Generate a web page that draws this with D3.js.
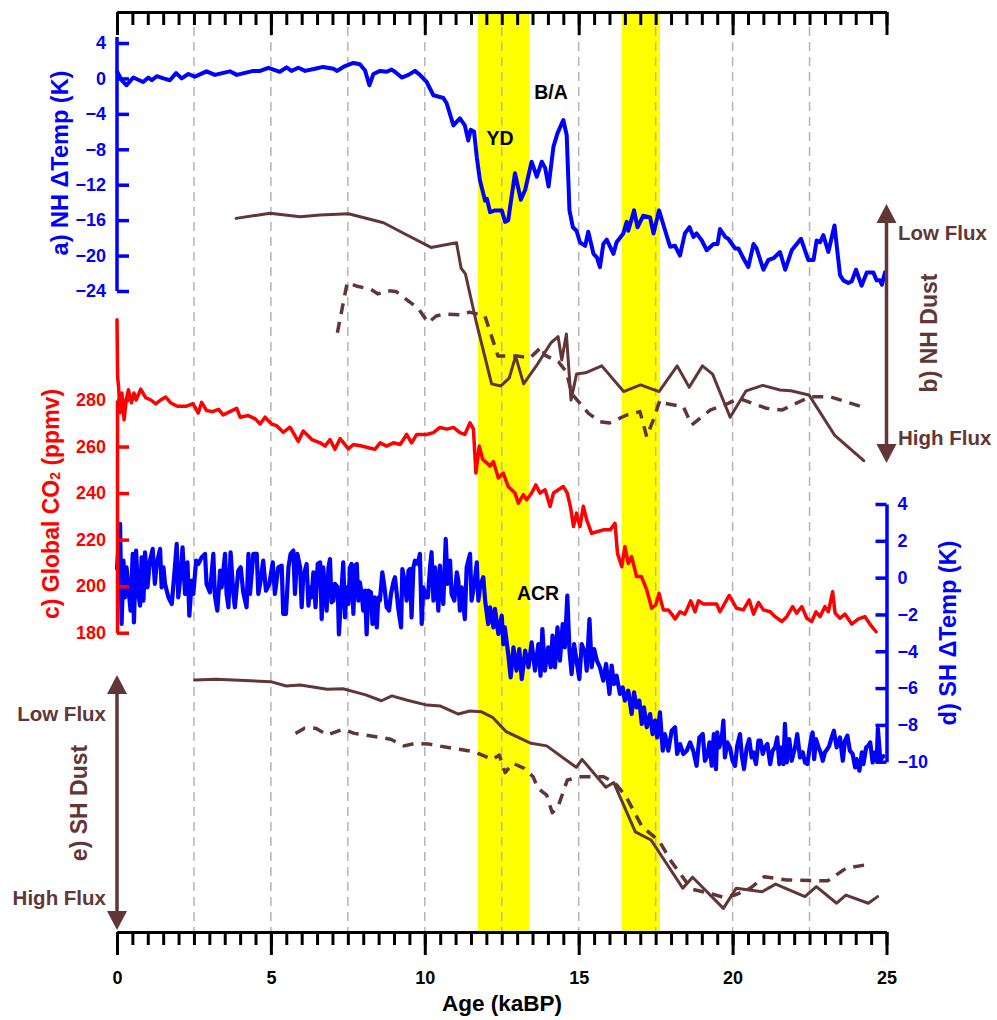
<!DOCTYPE html>
<html>
<head>
<meta charset="utf-8">
<script src="https://cdn.jsdelivr.net/npm/d3@7"></script>
<style>
  html, body { margin: 0; padding: 0; background: #fff; }
  svg { display: block; font-family: "Liberation Sans", Arial, sans-serif; font-weight: bold; }
</style>
</head>
<body>
<svg id="chart" width="997" height="1020"></svg>
<script>
// ---- Data -------------------------------------------------------------
const ageTicks = [0, 5, 10, 15, 20, 25];
const gridAges = [2.5, 5, 7.5, 10, 12.5, 15, 17.5, 20, 22.5];
const bands = [[11.73, 13.39], [16.39, 17.64]];   // YD and HS1 intervals (ka)

const nhTempTicks = [4, 0, -4, -8, -12, -16, -20, -24];
const co2Ticks = [280, 260, 240, 220, 200, 180];
const shTempTicks = [4, 2, 0, -2, -4, -6, -8, -10];

// a) NH temperature anomaly (age ka, K)
const nhTemp = [
  [0.01,0.73],[0.15,-0.2],[0.31,-0.77],[0.53,0.1],[0.85,-0.4],[1.02,0.1],[1.13,-0.2],[1.29,0.25],
  [1.51,0.0],[1.72,-0.2],[1.92,0.6],[2.10,0.0],[2.32,0.5],[2.53,0.2],[2.91,0.8],[3.18,0.4],
  [3.67,0.8],[3.89,0.4],[4.43,0.85],[4.65,0.85],[4.92,1.2],[5.29,0.75],[5.51,1.25],[5.67,0.85],
  [5.89,1.2],[6.11,0.85],[6.43,1.1],[6.70,1.3],[7.03,1.1],[7.14,0.85],[7.41,1.4],[7.68,1.75],
  [7.89,1.6],[8.06,0.9],[8.20,-0.77],[8.33,0.5],[8.55,0.85],[8.76,0.75],[8.92,1.0],[9.03,0.75],
  [9.25,0.1],[9.47,0.4],[9.68,0.85],[9.84,0.4],[10.06,-0.4],[10.28,-1.9],[10.49,-2.1],[10.60,-2.2],
  [10.71,-2.8],[10.93,-5.3],[11.14,-4.5],[11.30,-5.3],[11.41,-7.0],[11.49,-5.8],[11.60,-6.0],
  [11.69,-8.9],[11.79,-11.5],[11.96,-13.8],[12.02,-13.6],[12.12,-15.1],[12.28,-14.9],[12.50,-14.9],
  [12.61,-16.2],[12.71,-16.0],[12.93,-10.7],[13.12,-13.7],[13.26,-12.6],[13.47,-9.4],[13.64,-11.1],
  [13.80,-9.4],[13.91,-10.1],[14.02,-12.2],[14.18,-7.7],[14.31,-6.2],[14.50,-4.7],[14.61,-6.4],
  [14.70,-14.9],[14.81,-16.8],[14.93,-17.2],[15.04,-18.5],[15.21,-18.9],[15.31,-17.3],[15.48,-19.8],
  [15.59,-20.2],[15.69,-21.3],[15.80,-18.7],[15.91,-18.2],[16.13,-19.8],[16.23,-18.5],[16.45,-17.5],
  [16.56,-16.2],[16.61,-17.2],[16.80,-14.9],[16.91,-16.8],[17.10,-15.5],[17.32,-15.7],[17.43,-17.5],
  [17.61,-14.9],[17.81,-17.2],[17.97,-19.0],[18.13,-18.9],[18.29,-20.0],[18.45,-17.5],[18.60,-16.8],
  [18.73,-17.9],[18.83,-17.5],[19.00,-18.3],[19.16,-19.4],[19.38,-18.7],[19.51,-18.7],[19.59,-17.0],
  [19.76,-17.9],[19.86,-18.1],[20.08,-19.2],[20.19,-19.2],[20.35,-20.3],[20.51,-21.3],[20.68,-18.7],
  [20.78,-19.2],[21.00,-21.6],[21.16,-20.5],[21.33,-20.3],[21.54,-19.6],[21.71,-21.6],[21.92,-19.4],
  [22.22,-18.1],[22.46,-20.5],[22.63,-20.5],[22.73,-18.3],[22.84,-18.5],[22.95,-17.7],[23.11,-19.6],
  [23.31,-16.6],[23.49,-22.2],[23.60,-22.8],[23.76,-23.1],[23.87,-22.9],[24.01,-21.6],[24.19,-23.4],
  [24.36,-21.9],[24.57,-21.9],[24.68,-22.8],[24.79,-22.8],[24.85,-23.3],[24.95,-21.9]
];

// c) Global CO2 (age ka, ppmv)
const co2 = [
  [0.00,314.5],[0.02,290],[0.05,285.8],[0.10,274.5],[0.16,283],[0.23,271.5],[0.30,280],[0.37,284.4],
  [0.47,278.8],[0.55,283],[0.62,280],[0.77,284.7],[0.93,281],[1.10,280],[1.26,278.3],[1.42,280],
  [1.58,281.3],[1.75,278.7],[1.96,277.3],[2.24,277.3],[2.47,278.4],[2.64,274.4],[2.75,279],
  [2.91,275.5],[3.10,275],[3.30,276],[3.45,273.6],[3.67,275],[3.89,276.4],[4.00,272.6],[4.27,273.3],
  [4.49,271.9],[4.65,269.7],[4.81,272.6],[5.02,269.7],[5.18,269],[5.40,266.1],[5.62,268.3],
  [5.89,262.2],[6.05,266.7],[6.33,263],[6.60,261.6],[6.76,260.2],[6.92,263],[7.08,258.8],
  [7.25,263.4],[7.52,259],[7.68,260.9],[7.95,260.2],[8.17,259.5],[8.38,258.8],[8.55,261.6],
  [8.76,260.2],[8.98,261.6],[9.20,260.9],[9.41,265.2],[9.57,261.6],[9.74,265.2],[10.06,265.2],
  [10.28,266],[10.49,268.2],[10.71,267.5],[10.93,268.2],[11.14,266],[11.30,265.2],[11.47,270.2],
  [11.58,267.5],[11.66,248.6],[11.77,260.2],[11.88,254.5],[12.01,253],[12.12,251.6],[12.23,253.5],
  [12.39,246.5],[12.55,248.6],[12.71,242.8],[12.93,240],[13.04,235.7],[13.20,239.3],[13.31,237.1],
  [13.47,240],[13.61,243.5],[13.74,240],[13.91,241.4],[14.07,234.2],[14.18,240],[14.34,241.4],
  [14.50,242.8],[14.63,240],[14.74,233.5],[14.83,225.6],[14.93,231.4],[15.04,225.6],[15.15,234.3],
  [15.26,228.5],[15.42,222.7],[15.59,223.4],[15.80,224.2],[16.02,224.2],[16.18,227],[16.26,214.1],
  [16.40,208.4],[16.50,217],[16.61,209.8],[16.72,212.7],[16.88,204.1],[17.04,204.1],[17.21,198.4],
  [17.37,190.5],[17.50,191.9],[17.61,196.9],[17.75,189.8],[17.91,189.8],[18.02,188],[18.13,185.9],
  [18.29,189],[18.45,188],[18.64,193.7],[18.78,189],[18.89,193.7],[19.05,192.3],[19.26,192.3],
  [19.48,192.3],[19.59,189],[19.89,196],[20.13,190.5],[20.35,189.8],[20.54,194.1],[20.68,188],
  [20.84,193],[21.00,189.8],[21.22,189],[21.38,186.9],[21.60,184.8],[21.76,186.9],[21.95,191.2],
  [22.08,188.4],[22.25,191.2],[22.41,186.2],[22.57,184.8],[22.71,189],[22.84,186.9],[23.00,191.2],
  [23.11,189],[23.25,197.6],[23.33,188.4],[23.49,186.2],[23.65,188],[23.87,183.7],[24.09,185.9],
  [24.30,186.9],[24.46,183.7],[24.66,180.4]
];

// d) SH temperature anomaly (age ka, K)
const shTemp = [
  [0.00,0.5],[0.10,2.92],[0.15,-2.52],[0.21,0.92],[0.26,-1.07],[0.31,0.56],[0.37,-0.53],[0.44,-1.79],
  [0.51,1.29],[0.55,-2.43],[0.62,1.47],[0.69,-0.89],[0.75,-1.52],[0.80,1.10],[0.86,-1.25],[0.91,1.38],
  [0.99,-0.53],[1.07,0.92],[1.16,1.56],[1.23,-0.34],[1.29,0.74],[1.40,1.56],[1.45,-0.53],[1.51,0.56],
  [1.56,-0.34],[1.67,-1.07],[1.78,-1.43],[1.88,0.56],[1.94,1.83],[1.99,-1.07],[2.07,0.20],[2.13,1.65],
  [2.21,-0.89],[2.29,0.83],[2.35,-2.07],[2.43,-0.16],[2.48,-0.89],[2.57,0.92],[2.64,0.74],[2.75,1.10],
  [2.86,1.29],[2.91,-0.34],[3.02,-0.80],[3.13,1.29],[3.18,-0.98],[3.26,-1.79],[3.35,0.38],[3.40,-0.53],
  [3.51,1.29],[3.56,-0.89],[3.62,-1.61],[3.69,1.38],[3.78,-0.89],[3.83,-1.61],[3.94,0.38],[4.02,0.56],
  [4.10,-0.80],[4.21,-1.61],[4.27,1.29],[4.32,-0.89],[4.43,1.29],[4.54,1.29],[4.59,-0.89],[4.65,-0.34],
  [4.75,0.92],[4.84,-0.71],[4.95,-0.34],[5.06,0.83],[5.13,-0.89],[5.24,0.56],[5.35,0.65],[5.40,-1.97],
  [5.49,-1.97],[5.57,0.56],[5.64,1.29],[5.73,1.47],[5.78,-0.89],[5.86,1.29],[5.95,0.56],
  [6.00,-1.61],[6.05,0.02],[6.16,0.74],[6.22,-1.52],[6.27,-0.53],[6.32,-1.07],[6.38,0.29],[6.45,-1.61],
  [6.52,0.74],[6.60,0.83],[6.65,-2.25],[6.70,0.56],[6.76,-0.71],[6.81,-1.79],[6.87,0.56],[6.92,1.01],
  [6.97,-1.34],[7.03,-1.25],[7.08,-0.34],[7.17,-0.53],[7.21,-3.08],[7.28,-1.07],[7.35,0.83],[7.41,-2.16],
  [7.46,-0.53],[7.52,-1.43],[7.57,0.56],[7.62,0.74],[7.68,-1.97],[7.73,0.65],[7.79,0.74],[7.84,-1.25],
  [7.89,-0.25],[7.95,-0.89],[8.00,-1.79],[8.06,-0.71],[8.11,-3.08],[8.17,-0.71],[8.25,-0.80],[8.30,-2.52],
  [8.36,-1.07],[8.44,-2.70],[8.49,-1.07],[8.54,-1.25],[8.62,0.29],[8.69,-0.53],[8.76,-1.61],[8.84,-1.79],
  [8.90,-0.89],[8.98,-0.25],[9.03,0.02],[9.09,-0.89],[9.14,-1.70],[9.23,-2.70],[9.27,0.47],[9.34,-0.16],
  [9.41,-1.25],[9.47,0.38],[9.52,0.47],[9.57,-2.16],[9.63,0.56],[9.68,0.92],[9.77,0.74],[9.84,1.29],
  [9.90,-2.52],[9.95,-0.53],[10.03,-1.07],[10.10,-1.07],[10.17,0.56],[10.22,1.38],[10.28,-1.25],
  [10.33,0.56],[10.39,-0.34],[10.44,-1.79],[10.49,0.65],[10.55,-0.62],[10.60,-1.43],[10.68,2.10],
  [10.74,-0.34],[10.82,0.92],[10.87,-0.89],[10.96,-1.25],[11.04,0.29],[11.09,-0.16],[11.14,-1.79],
  [11.20,-0.53],[11.30,-2.25],[11.36,0.56],[11.47,1.29],[11.52,-1.25],[11.61,-0.34],[11.69,0.83],
  [11.74,-1.25],[11.79,-0.53],[11.90,0.02],
  [11.96,-1.25],[12.06,-2.52],[12.12,-1.61],[12.23,-2.70],[12.28,-1.70],[12.39,-3.06],[12.50,-2.07],
  [12.55,-3.61],[12.60,-2.70],[12.71,-4.15],[12.79,-5.42],[12.88,-3.79],[12.98,-5.05],[13.07,-3.88],
  [13.15,-5.51],[13.26,-3.97],[13.37,-4.87],[13.47,-3.51],[13.58,-5.05],[13.69,-3.61],[13.76,-5.33],
  [13.82,-2.79],[13.90,-5.05],[14.01,-3.79],[14.09,-4.87],[14.15,-3.15],[14.23,-4.87],[14.31,-2.70],
  [14.39,-4.51],[14.48,-2.52],[14.55,-3.79],[14.63,-0.98],[14.70,-3.97],[14.77,-5.24],[14.85,-3.61],
  [14.93,-4.51],[15.02,-5.51],[15.10,-3.61],[15.21,-4.15],[15.26,-5.05],[15.35,-2.25],[15.42,-4.87],
  [15.50,-3.88],[15.59,-4.51],[15.69,-4.87],[15.80,-5.60],[15.89,-4.69],[16.00,-6.32],[16.07,-4.78],
  [16.15,-5.78],[16.23,-5.33],[16.34,-6.32],[16.43,-5.96],[16.50,-6.68],[16.61,-6.14],[16.72,-7.41],
  [16.80,-6.23],[16.88,-7.05],[16.97,-6.68],[17.05,-7.95],[17.12,-7.05],[17.21,-8.13],[17.32,-7.41],
  [17.40,-8.50],[17.48,-7.77],[17.55,-8.68],[17.64,-7.32],[17.73,-9.40],[17.80,-8.50],[17.91,-9.40],
  [18.02,-8.32],[18.13,-8.13],[18.20,-9.58],[18.29,-9.04],[18.40,-9.58],[18.51,-9.40],
  [18.62,-8.95],[18.72,-9.40],[18.83,-10.22],[18.92,-8.68],[19.03,-8.50],[19.10,-9.95],[19.18,-9.67],
  [19.25,-8.95],[19.32,-10.22],[19.39,-8.50],[19.46,-10.40],[19.50,-8.41],[19.57,-9.22],[19.65,-8.68],
  [19.70,-7.77],[19.75,-9.77],[19.83,-8.95],[19.91,-9.22],[20.00,-9.95],[20.08,-10.22],[20.15,-9.13],
  [20.24,-8.50],[20.30,-9.67],[20.37,-10.40],[20.46,-9.22],[20.54,-8.77],[20.62,-9.77],[20.67,-9.49],
  [20.76,-10.13],[20.84,-8.86],[20.91,-8.86],[20.98,-9.58],[21.05,-9.22],[21.13,-9.04],[21.22,-10.13],
  [21.30,-9.40],[21.38,-9.22],[21.45,-8.68],[21.52,-10.13],[21.59,-9.22],[21.65,-10.13],[21.70,-7.95],
  [21.76,-10.04],[21.84,-8.77],[21.92,-9.95],[22.03,-9.22],[22.10,-8.50],[22.19,-9.77],[22.28,-9.49],
  [22.35,-10.04],[22.43,-10.13],[22.49,-9.40],[22.54,-8.86],[22.60,-8.41],[22.65,-9.86],[22.71,-8.77],
  [22.79,-9.22],[22.86,-9.49],[22.93,-9.95],[23.00,-9.49],[23.08,-9.31],[23.14,-9.13],[23.22,-8.68],
  [23.29,-8.32],[23.38,-9.22],[23.49,-8.68],[23.58,-9.95],[23.65,-8.86],[23.73,-8.59],[23.81,-9.40],
  [23.90,-9.58],[23.98,-10.31],[24.03,-9.86],[24.12,-10.49],[24.20,-9.49],[24.25,-10.13],[24.34,-9.22],
  [24.41,-9.13],[24.47,-8.95],[24.55,-10.04],[24.63,-9.49],[24.68,-9.95],[24.72,-8.2],[24.80,-9.9],
  [24.90,-9.7]
];

// b) NH dust, relative index (0 = high flux, 100 = low flux)
const nhDustA = [
  [3.87,94.8],[4.97,96.8],[5.95,95.4],[6.60,96.1],[7.52,96.6],[8.66,93.1],[9.31,89.0],[10.20,83.5],
  [11.03,85.3],[11.18,75.4],[11.32,73.2],[11.68,54.0],[12.17,30.4],[12.47,29.6],[12.74,32.6],
  [12.95,41.2],[13.21,30.4],[13.68,38.4],[14.10,46.4],[14.33,48.8],[14.45,39.7],[14.60,49.8],
  [14.75,24.1],[14.93,34.2],[15.22,34.7],[15.75,37.4],[16.46,27.4],[17.01,30.0],[17.61,27.4],
  [18.20,37.4],[18.59,29.1],[19.02,37.4],[19.35,34.2],[19.92,17.4],[20.44,27.7],[20.98,29.8],
  [21.54,28.0],[21.89,27.7],[22.48,26.1],[23.31,10.5],[24.26,0.5]
];
const nhDustB = [
  [7.16,50.3],[7.48,69.8],[7.77,68.5],[8.25,67.2],[8.48,65.4],[8.78,66.7],[9.07,66.3],[9.43,63.0],
  [9.78,59.8],[10.11,54.2],[10.37,56.8],[10.66,57.6],[11.20,57.2],[11.45,58.3],[11.95,56.9],
  [12.38,41.2],[12.54,41.2],[13.03,41.2],[13.42,40.5],[13.80,44.9],[13.90,41.6],[14.34,39.0],
  [14.60,35.1],[14.77,26.7],[15.04,22.8],[15.32,18.9],[15.69,15.7],[16.00,15.2],[16.56,18.3],
  [16.99,19.6],[17.21,9.8],[17.42,16.3],[17.64,24.1],[17.80,22.8],[18.40,21.5],[18.67,14.4],
  [19.27,20.2],[19.86,22.8],[20.19,24.8],[21.10,20.9],[21.60,20.2],[22.52,25.4],[23.16,25.4],
  [24.36,20.9]
];

// e) SH dust, relative index (0 = high flux, 100 = low flux)
const shDustA = [
  [2.52,98.0],[3.22,98.3],[4.99,97.4],[5.50,95.7],[5.95,96.1],[6.83,94.4],[7.34,94.6],[8.08,92.2],
  [8.59,89.9],[8.93,91.8],[9.40,90.2],[10.07,88.2],[10.51,87.8],[11.09,84.7],[11.46,85.9],
  [11.83,85.6],[12.20,83.4],[12.64,77.8],[13.45,73.2],[13.96,72.2],[14.92,63.8],[15.11,66.9],
  [15.88,56.0],[16.14,57.8],[16.84,38.5],[17.35,35.3],[18.38,16.4],[18.70,20.7],[19.70,8.5],
  [20.12,16.4],[20.96,15.0],[21.40,18.0],[22.35,13.1],[22.72,17.0],[23.38,10.5],[23.68,13.7],
  [24.41,10.5],[24.71,13.1]
];
const shDustB = [
  [5.80,77.1],[6.09,79.1],[6.46,79.1],[6.83,76.5],[7.34,78.7],[7.71,77.1],[8.52,75.6],[8.89,74.8],
  [9.33,72.2],[9.70,73.2],[10.14,72.9],[10.87,71.3],[11.61,69.9],[12.20,66.9],[12.42,68.6],
  [12.61,61.7],[12.86,65.4],[13.23,63.4],[13.52,60.1],[13.67,55.6],[13.96,52.9],[14.14,46.0],
  [14.33,48.4],[14.63,58.8],[15.07,60.1],[15.81,60.1],[16.17,57.8],[16.54,52.3],[17.06,40.5],
  [17.61,35.0],[18.01,26.8],[18.67,16.0],[19.26,14.4],[19.70,12.8],[20.07,13.7],[20.58,16.4],
  [21.03,20.9],[21.76,19.6],[23.09,19.3],[23.68,24.2],[24.49,25.9]
];

// ---- Layout & scales --------------------------------------------------
const BLUE = "#0000ff", RED = "#ff0000", BROWN = "#623636", YELLOW = "#ffff00";
const svg = d3.select("#chart");

const x = d3.scaleLinear().domain([0, 25]).range([117, 886.5]);
const topY = 12, bottomY = 932;

const yA = d3.scaleLinear().domain([-24, 4]).range([291, 43]);
const yC = d3.scaleLinear().domain([180, 280]).range([632.7, 400]);
const yD = d3.scaleLinear().domain([-10, 4]).range([761.7, 504]);
const yB = d3.scaleLinear().domain([0, 100]).range([462, 205]);
const yE = d3.scaleLinear().domain([0, 100]).range([930, 675]);

// ---- Shaded intervals -------------------------------------------------
svg.append("g").selectAll("rect").data(bands).join("rect")
  .attr("x", d => x(d[0])).attr("width", d => x(d[1]) - x(d[0]))
  .attr("y", topY).attr("height", bottomY - topY)
  .attr("fill", YELLOW);

// ---- Dashed vertical grid ---------------------------------------------
svg.append("g").selectAll("line").data(gridAges).join("line")
  .attr("x1", d => x(d)).attr("x2", d => x(d))
  .attr("y1", topY).attr("y2", bottomY)
  .attr("stroke", "#b4b4b4").attr("stroke-width", 1.5)
  .attr("stroke-dasharray", "9,6");

// ---- Series -----------------------------------------------------------
function drawLine(data, yScale, color, width, dash) {
  const line = d3.line().x(d => x(d[0])).y(d => yScale(d[1]));
  svg.append("path").datum(data)
    .attr("d", line)
    .attr("fill", "none")
    .attr("stroke", color)
    .attr("stroke-width", width)
    .attr("stroke-linejoin", "round")
    .attr("stroke-linecap", dash ? "butt" : "round")
    .attr("stroke-dasharray", dash || null);
}

drawLine(nhDustA, yB, BROWN, 3, null);
drawLine(nhDustB, yB, BROWN, 3.5, "11,8");
drawLine(shDustA, yE, BROWN, 3, null);
drawLine(shDustB, yE, BROWN, 3.5, "11,8");
drawLine(co2, yC, RED, 3.5, null);
drawLine(shTemp, yD, BLUE, 4.2, null);
drawLine(nhTemp, yA, BLUE, 4, null);

// ---- Axes -------------------------------------------------------------
function styleAxis(g, color, width, fontSize) {
  g.selectAll("path.domain").attr("stroke", color).attr("stroke-width", width);
  g.selectAll(".tick line").attr("stroke", color).attr("stroke-width", width);
  g.selectAll(".tick text").attr("fill", color)
    .style("font-size", fontSize + "px").style("font-weight", "bold")
    .style("font-family", "'Liberation Sans', Arial, sans-serif");
}

const minorAges = d3.range(0, 25.01, 0.5);

// bottom age axis
const gBotMinor = svg.append("g").attr("transform", `translate(0,${bottomY})`)
  .call(d3.axisBottom(x).tickValues(minorAges).tickSize(13).tickSizeOuter(0).tickFormat(""));
styleAxis(gBotMinor, "#000", 3, 17);
const gBot = svg.append("g").attr("transform", `translate(0,${bottomY})`)
  .call(d3.axisBottom(x).tickValues(ageTicks).tickSize(23).tickSizeOuter(0).tickPadding(16));
styleAxis(gBot, "#000", 3, 18);

// top age axis (ticks pointing into the plot)
const gTopMinor = svg.append("g").attr("transform", `translate(0,${topY})`)
  .call(d3.axisBottom(x).tickValues(minorAges).tickSize(13).tickSizeOuter(0).tickFormat(""));
styleAxis(gTopMinor, "#000", 3, 17);
const gTop = svg.append("g").attr("transform", `translate(0,${topY})`)
  .call(d3.axisBottom(x).tickValues(ageTicks).tickSize(23).tickSizeOuter(0).tickFormat(""));
styleAxis(gTop, "#000", 3, 17);

// a) NH temperature axis
const gA = svg.append("g").attr("transform", `translate(${x(0)},0)`)
  .call(d3.axisLeft(yA).tickValues(nhTempTicks).tickSize(-12).tickSizeOuter(0).tickPadding(11)
    .tickFormat(d3.format("d")));
gA.select("path.domain").attr("d", `M0,${yA(4) - 6}V${yA(-24)}`);
styleAxis(gA, BLUE, 3.5, 18);

// c) CO2 axis
const gC = svg.append("g").attr("transform", `translate(${x(0)},0)`)
  .call(d3.axisLeft(yC).tickValues(co2Ticks).tickSize(-12).tickSizeOuter(0).tickPadding(11));
styleAxis(gC, RED, 3.5, 18);

// d) SH temperature axis (right)
const gD = svg.append("g").attr("transform", `translate(${x(25)},0)`)
  .call(d3.axisRight(yD).tickValues(shTempTicks).tickSize(-11).tickSizeOuter(0).tickPadding(11)
    .tickFormat(d3.format("d")));
styleAxis(gD, BLUE, 3.5, 18);

// ---- Dust direction arrows -------------------------------------------
function arrow(xPos, yTop, yBot) {
  const g = svg.append("g").attr("fill", BROWN).attr("stroke", BROWN);
  const head = 19, half = 10;
  g.append("line").attr("x1", xPos).attr("x2", xPos)
    .attr("y1", yTop + head - 2).attr("y2", yBot - head + 2).attr("stroke-width", 3.5);
  g.append("path").attr("stroke", "none")
    .attr("d", `M${xPos},${yTop}L${xPos + half},${yTop + head}L${xPos - half},${yTop + head}Z`);
  g.append("path").attr("stroke", "none")
    .attr("d", `M${xPos},${yBot}L${xPos + half},${yBot - head}L${xPos - half},${yBot - head}Z`);
}
arrow(x(25), yB(100) - 1, yB(0) + 1);
arrow(x(0), yE(100), yE(0));

// ---- Text -------------------------------------------------------------
function label(txt, px, py, color, size, anchor, rotate) {
  const t = svg.append("text")
    .attr("fill", color).style("font-size", size + "px")
    .attr("text-anchor", anchor || "middle")
    .attr("dominant-baseline", "central");
  if (rotate) t.attr("transform", `translate(${px},${py}) rotate(-90)`);
  else t.attr("x", px).attr("y", py);
  return t.text(txt);
}

label("a) NH \u0394Temp (K)", 60, 163, BLUE, 23.5, "middle", true);
const tc = label("", 51, 504, RED, 23, "middle", true);
tc.append("tspan").text("c) Global CO");
tc.append("tspan").text("2").style("font-size", "14px").attr("baseline-shift", "-25%");
tc.append("tspan").text(" (ppmv)");
label("d) SH \u0394Temp (K)", 948, 633, BLUE, 23.5, "middle", true);
label("b) NH Dust", 929, 333, BROWN, 23, "middle", true);
label("e) SH Dust", 79, 803, BROWN, 23, "middle", true);

label("Low Flux", 898, 232, BROWN, 20.5, "start");
label("High Flux", 898, 437, BROWN, 20.5, "start");
label("Low Flux", 106, 713, BROWN, 20.5, "end");
label("High Flux", 106, 897, BROWN, 20.5, "end");

label("YD", 500, 138, "#000", 19.5);
label("B/A", 551, 92, "#000", 19.5);
label("ACR", 538, 593, "#000", 19.5);

label("Age (kaBP)", 502, 1003, "#000", 22.5);
</script>
</body>
</html>
